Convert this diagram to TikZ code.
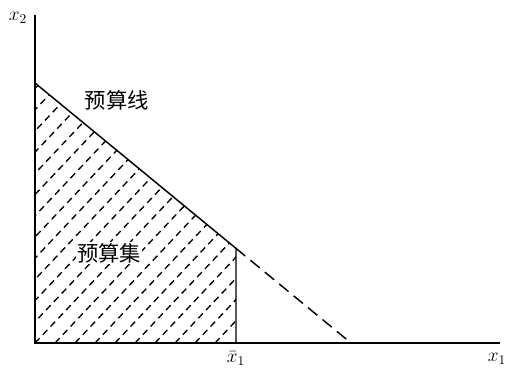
\documentclass[tikz,border=0pt]{standalone}
\usepackage{amsmath}
\usepackage{fontspec}
\newfontfamily\cjk{Noto Sans CJK SC}

\begin{document}
\begin{tikzpicture}[x=0.75pt,y=0.75pt,font=\Large,line width=1.1pt]
    \useasboundingbox (-35,-33) rectangle (476,343);
    \coordinate (O) at (0,0);
    \coordinate (A) at (0,260);
    \coordinate (C) at (201,94.6);
    \coordinate (D) at (201,0);
    \coordinate (B) at (316,0);
    \coordinate (Xend) at (465,0);
    \coordinate (Yend) at (0,328);
    % hatching of the budget set
    \begin{scope}
      \clip (O) -- (A) -- (C) -- (D) -- cycle;
      \foreach \i in {-14,...,10}
        \draw[line width=1pt,dash pattern=on 5pt off 3.5pt] (\i*20,0) -- ++(300,318);
    \end{scope}
    \draw (Yend) -- (O) -- (Xend);
    \draw (A) -- (C) -- (D);
    \draw[dash pattern=on 9pt off 5pt] (C) -- (B);
    \node (x2) at (-17,325) {$x_2$};
    \node (x1) at (462,-16) {$x_1$};
    \node (x1bar) at (201,-16) {$\bar{x}_1$};
    \node[font=\cjk\fontsize{16}{19}\selectfont] (line) at (82,243) {预算线};
    \node[font=\cjk\fontsize{16}{19}\selectfont,fill=white,inner sep=1pt] (set) at (74,90) {预算集};
  \end{tikzpicture}
\end{document}
